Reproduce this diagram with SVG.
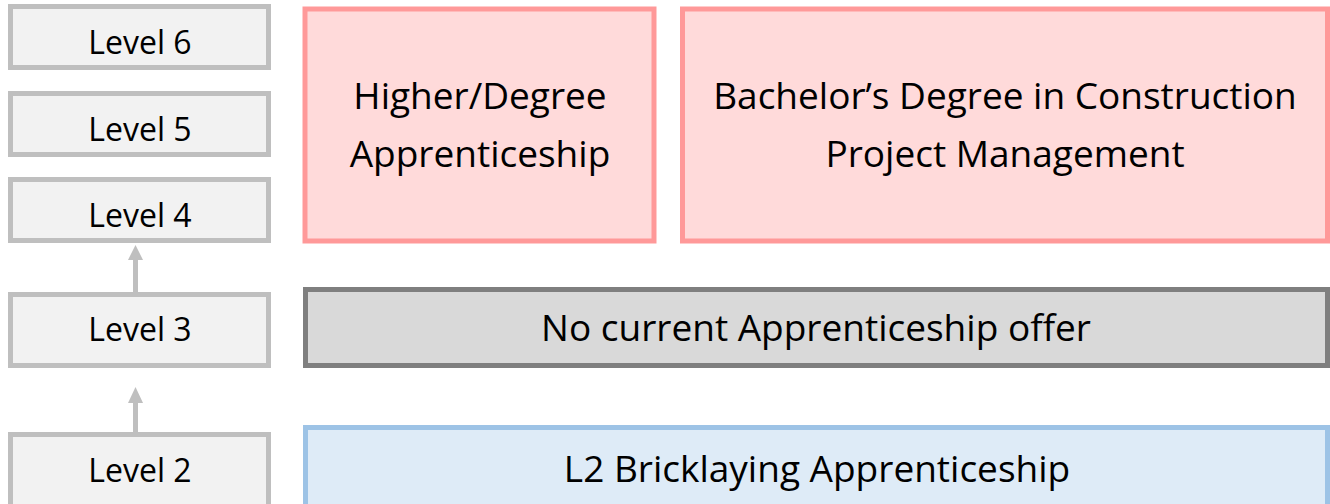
<svg xmlns="http://www.w3.org/2000/svg" width="1330" height="504" viewBox="0 0 1330 504">
<style>
.lvl{fill:#f2f2f2;stroke:#bfbfbf;stroke-width:5}
.pink{fill:#ffdada;stroke:#ff9999;stroke-width:5}
.gray{fill:#d9d9d9;stroke:#7f7f7f;stroke-width:5}
.blue{fill:#deebf7;stroke:#9dc3e6;stroke-width:5}
text{font-family:"Open Sans","Noto Sans",sans-serif;fill:#000;text-anchor:middle}
.t1{font-size:32px}
.t2{font-size:37px}
.conn{stroke:#bfbfbf;stroke-width:5;fill:none}
.head{fill:#bfbfbf}
</style>
<rect width="1330" height="504" fill="#ffffff"/>
<g id="level6"><rect class="lvl" x="10.5" y="6.5" width="258" height="61"/><text class="t1" x="140" y="54">Level 6</text></g>
<g id="level5"><rect class="lvl" x="10.5" y="93.5" width="258" height="61"/><text class="t1" x="140" y="141">Level 5</text></g>
<g id="level4"><rect class="lvl" x="10.5" y="179.5" width="258" height="61"/><text class="t1" x="140" y="227">Level 4</text></g>
<g id="level3"><rect class="lvl" x="10.5" y="294.5" width="258" height="71"/><text class="t1" x="140" y="341">Level 3</text></g>
<g id="level2"><rect class="lvl" x="10.5" y="434.5" width="258" height="72"/><text class="t1" x="140" y="482">Level 2</text></g>
<g id="higher"><rect class="pink" x="305" y="9" width="349" height="232"/><text class="t2" x="480" y="109">Higher/Degree</text><text class="t2" x="480" y="167">Apprenticeship</text></g>
<g id="bachelor"><rect class="pink" x="682.5" y="9" width="645" height="232"/><text class="t2" x="1005" y="109">Bachelor’s Degree in Construction</text><text class="t2" x="1005" y="167">Project Management</text></g>
<g id="nooffer"><rect class="gray" x="305.5" y="289.5" width="1022" height="76"/><text class="t2" x="816" y="341">No current Apprenticeship offer</text></g>
<g id="l2brick"><rect class="blue" x="305.5" y="427.5" width="1022" height="80"/><text class="t2" x="817" y="482">L2 Bricklaying Apprenticeship</text></g>
<g id="connectors">
<line class="conn" x1="135.5" y1="292" x2="135.5" y2="258"/>
<polygon class="head" points="135.5,245 143,260 128,260"/>
<line class="conn" x1="135.5" y1="432" x2="135.5" y2="401"/>
<polygon class="head" points="135.5,387 143,403 128,403"/>
</g>
</svg>
